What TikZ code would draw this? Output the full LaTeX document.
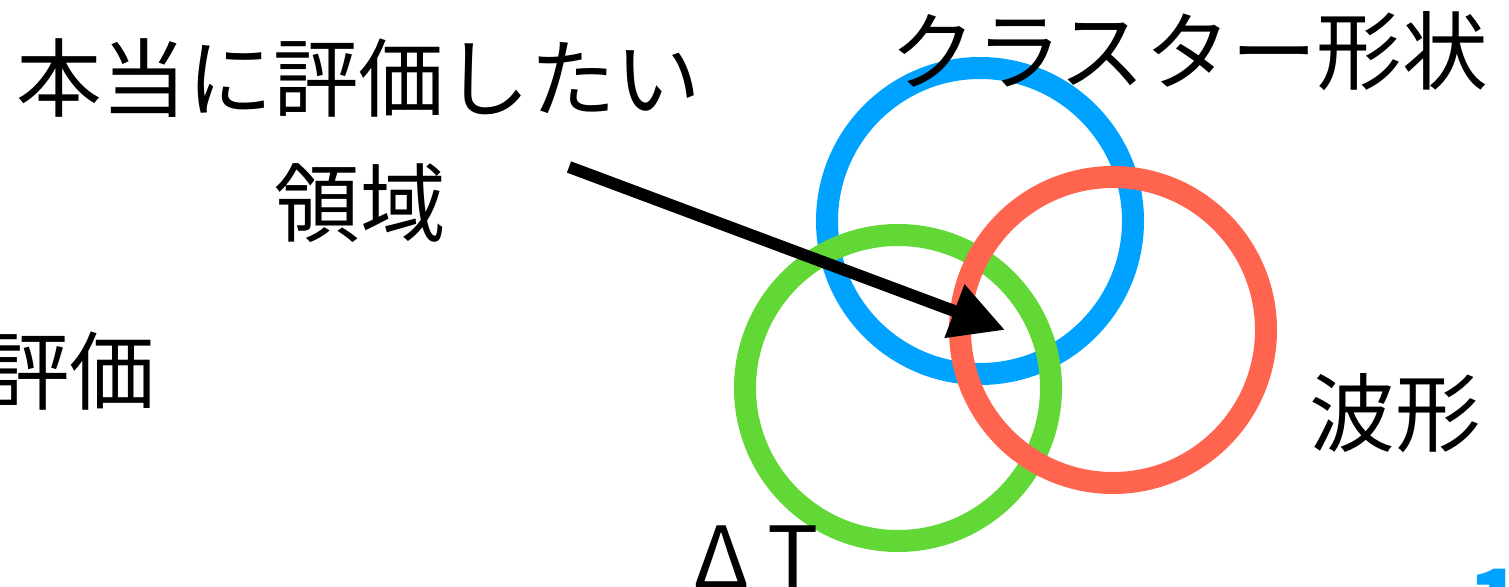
\documentclass[tikz,border=0pt]{standalone}
\usepackage{fontspec}
\setmainfont{Noto Sans CJK JP}
\usetikzlibrary{arrows.meta}
\definecolor{kblue}{RGB}{0,162,255}
\definecolor{kgreen}{RGB}{97,216,54}
\definecolor{kred}{RGB}{255,100,78}

\begin{document}
\begin{tikzpicture}[x=0.5pt, y=-0.5pt,
  ring/.style={line width=11pt},
  lbl/.style={inner sep=0pt, anchor=base west, font=\fontsize{42.8}{50}\selectfont}]
  \path[use as bounding box] (0,0) rectangle (1509,587);
  \clip (0,0) rectangle (1509,587);
  % the three rings
  \draw[ring, kblue] (980,221) circle (76.5pt);
  \draw[ring, kgreen] (898,388) circle (76.5pt);
  \draw[ring, kred] (1113,330) circle (76.5pt);
  % pointer into the overlap
  \coordinate (tail) at (569,167);
  \coordinate (tip) at (1005,330);
  \draw[line width=6pt, -{Triangle[length=27pt, width=27pt]}] (tail) -- (tip);
  % labels
  \node[lbl] (goal) at (16,111) {本当に評価したい};
  \node[lbl] (region) at (274,236) {領域};
  \node[lbl, anchor=base east] (eval) at (156,404) {評価};
  \node[lbl] (shape) at (890,84) {クラスター形状};
  \node[lbl] (wave) at (1309,445) {波形};
  \node[lbl] (dt) at (693,588) {Δ\hspace{9pt}T};
  \node[anchor=base west, inner sep=0pt, text=kblue, font=\fontsize{45}{50}\selectfont\bfseries] (page) at (1468,634) {1};
\end{tikzpicture}
\end{document}
